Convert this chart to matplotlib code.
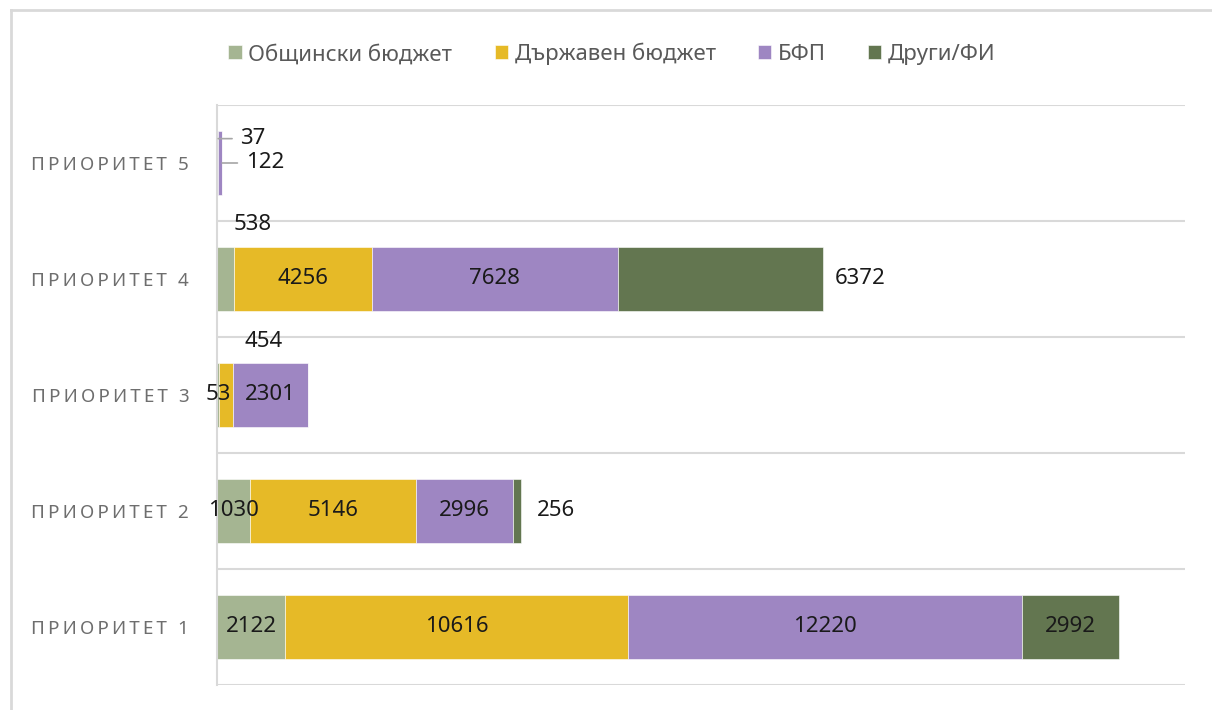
"""Stacked horizontal bars: financing by source per priority."""
import matplotlib
matplotlib.use("Agg")
import matplotlib.pyplot as plt
from matplotlib.lines import Line2D
import numpy as np

plt.rcParams["font.family"] = ["Noto Sans", "DejaVu Sans"]

categories = ["ПРИОРИТЕТ 1", "ПРИОРИТЕТ 2", "ПРИОРИТЕТ 3", "ПРИОРИТЕТ 4", "ПРИОРИТЕТ 5"]
series_names = ["Общински бюджет", "Държавен бюджет", "БФП", "Други/ФИ"]
municipal = [2122, 1030, 53, 538, 37]
state = [10616, 5146, 454, 4256, 0]
bfp = [12220, 2996, 2301, 7628, 122]
other = [2992, 256, 0, 6372, 0]
colors = ["#A5B592", "#E6BA27", "#9E86C2", "#637650"]

series = [municipal, state, bfp, other]

# label placement for small segments: (series, category) -> (dx points from segment end, dy in rows, ha, leader)
special = {
    (0, 4): (16, 0.21, "left", True),
    (2, 4): (17, 0.0, "left", True),
    (0, 3): (13, 0.47, "center", False),
    (1, 2): (22, 0.46, "center", False),
    (3, 3): (8, 0.0, "left", False),
    (3, 1): (11, 0.0, "left", False),
}

LABEL_FS = 16

fig = plt.figure(figsize=(12.12, 7.10), dpi=100)
ax = fig.add_axes([217 / 1212, 1 - 685 / 710, (1185 - 217) / 1212, 580 / 710])

y = np.arange(len(categories))
left = np.zeros(len(categories))
for si, (vals, col, name) in enumerate(zip(series, colors, series_names)):
    vals = np.array(vals, dtype=float)
    ax.barh(y, vals, left=left, height=0.55, color=col, label=name,
            edgecolor="white", linewidth=0.4)
    for ci, v in enumerate(vals):
        if v == 0:
            continue
        if (si, ci) in special:
            dx, dy, ha, leader = special[(si, ci)]
            xend = left[ci] + v
            arrow = None
            if leader:
                arrow = dict(arrowstyle="-", color="#A6A6A6", lw=1.2,
                             relpos=(0, 0.5), shrinkA=4, shrinkB=0)
            ax.annotate(f"{int(v)}", (xend, ci + dy), xytext=(dx, 0),
                        textcoords="offset points", ha=ha, va="center",
                        fontsize=LABEL_FS, color="#1a1a1a", arrowprops=arrow)
        else:
            ax.text(left[ci] + v / 2, ci, f"{int(v)}", ha="center", va="center",
                    fontsize=LABEL_FS, color="#1a1a1a")
    left += vals

ax.set_xlim(0, 30000)
ax.set_ylim(-0.5, 4.5)
ax.set_xticks([])
thin = "\u2009"
ax.set_yticks(y)
ax.set_yticklabels([thin.join(c) for c in categories], fontsize=13.5, color="#6E6E6E")
ax.tick_params(axis="y", length=0, pad=20)
for b in np.arange(-0.5, 5, 1):
    ax.axhline(b, color="#D9D9D9", lw=1.5, zorder=0)
for s in ["top", "right", "bottom"]:
    ax.spines[s].set_visible(False)
ax.spines["left"].set_color("#D9D9D9")
ax.spines["left"].set_linewidth(1.5)

fig.legend(loc="upper center", bbox_to_anchor=(0.505, 0.968), ncol=4, frameon=False,
           fontsize=16, handlelength=0.6, handleheight=0.6, handletextpad=0.3,
           columnspacing=1.9, labelcolor="#595959")

fig.add_artist(Line2D([11 / 1212, 11 / 1212], [0, 1 - 10 / 710], transform=fig.transFigure,
                      color="#D9D9D9", lw=2))
fig.add_artist(Line2D([11 / 1212, 1], [1 - 10 / 710, 1 - 10 / 710], transform=fig.transFigure,
                      color="#D9D9D9", lw=2))

fig.savefig("out.png", dpi=100)
